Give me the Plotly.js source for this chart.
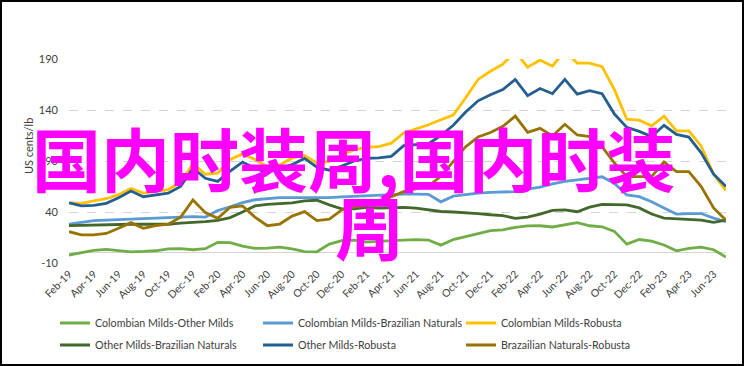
<!DOCTYPE html>
<html>
<head>
<meta charset="utf-8">
<script src="https://cdn.plot.ly/plotly-3.0.1.min.js"></script>
<style>
html,body{margin:0;padding:0;background:#fff;}
#chart{width:744px;height:366px;}
</style>
</head>
<body>
<div id="chart"></div>
<script>
const months = ["Feb-19","Mar-19","Apr-19","May-19","Jun-19","Jul-19","Aug-19","Sep-19","Oct-19","Nov-19","Dec-19",
"Jan-20","Feb-20","Mar-20","Apr-20","May-20","Jun-20","Jul-20","Aug-20","Sep-20","Oct-20","Nov-20","Dec-20",
"Jan-21","Feb-21","Mar-21","Apr-21","May-21","Jun-21","Jul-21","Aug-21","Sep-21","Oct-21","Nov-21","Dec-21",
"Jan-22","Feb-22","Mar-22","Apr-22","May-22","Jun-22","Jul-22","Aug-22","Sep-22","Oct-22","Nov-22","Dec-22",
"Jan-23","Feb-23","Mar-23","Apr-23","May-23","Jun-23","Jul-23"];

const tickLabels = ["Feb-19","Apr-19","Jun-19","Aug-19","Oct-19","Dec-19","Feb-20","Apr-20","Jun-20","Aug-20","Oct-20","Dec-20",
"Feb-21","Apr-21","Jun-21","Aug-21","Oct-21","Dec-21","Feb-22","Apr-22","Jun-22","Aug-22","Oct-22","Dec-22","Feb-23","Apr-23","Jun-23"];

const yTickVals = [-10, 40, 90, 140, 190];
const yTickText = ["-10", "40", "90", "140", "190"];

const seriesNames = ["Colombian Milds-Other Milds","Colombian Milds-Brazilian Naturals","Colombian Milds-Robusta",
"Other Milds-Brazilian Naturals","Other Milds-Robusta","Brazailian Naturals-Robusta"];

const colMildsOtherMilds = [-2.2,0.2,2.3,3.3,2.5,1.0,1.3,2.0,3.8,4.0,
3.0,4.0,10.3,10.0,6.5,4.3,4.5,5.5,3.8,1.2,
1.0,8.5,12.0,12.5,10.5,11.5,12.0,12.5,13.0,12.5,
7.5,13.0,16.0,19.0,21.8,22.5,25.0,26.3,26.5,25.3,
27.3,29.5,26.5,25.5,21.0,8.5,13.0,11.5,7.7,2.0,
4.3,5.5,3.0,-4.2];

const colMildsBrazNat = [28.2,30.0,31.5,32.0,32.5,32.8,33.0,33.3,33.8,34.8,
35.4,35.0,41.5,45.0,49.3,52.0,53.2,54.0,54.0,54.0,
53.8,54.0,54.8,55.3,56.0,56.8,57.5,57.6,57.5,57.3,
50.0,55.5,57.0,58.5,59.2,59.5,60.0,62.5,64.5,67.5,
70.0,71.4,73.0,74.5,68.0,56.7,55.0,50.0,44.0,38.0,
38.4,38.5,34.0,30.5];

const colMildsRobusta = [49,48.5,51,53,57,63,58.5,60,62,69,
87.5,77,78,91.5,97,91.5,84.5,86,93,95.5,
88,89.5,96,101,103.5,104,107.5,117.5,121.5,125.5,
130.5,135,152,170,178,185,197,182,189,183,
198,186,186,182.5,160,131,130,124.5,134,119.5,
119.5,104.5,77,61];

const otherMildsBrazNat = [26.6,27,27.3,27.6,28,28,28,28,28,29,
29.6,30.5,31.8,34.5,40,46,47.5,48.3,49,51,
51.5,47,43,43,44.5,43.8,44.3,44.6,43.8,42.5,
40.5,40,39.5,38.5,37.3,36.5,33.8,35,38,41.5,
42,40.3,44.8,47.5,47.2,46.9,44,38,34,33.5,
33.2,32,29.8,32];

const otherMildsRobusta = [49,46,46.5,48.5,54,60.5,55,57,58.5,65,
83,73,70,80,89,83,78.5,83,86.5,92.5,
84,81,85,90,92.5,93,94.5,105,106,107,
115,125,138,149,155,160,170,154,161,156,
170,155.5,159,156,136,123,119,114,125,116,
113.5,98,77,65];

const brazNatRobusta = [20.7,17.5,17.5,19,24,29.6,24,26.6,28,34.8,
51.8,39.4,33.8,44.6,45.9,35,26.6,28.2,36,40.3,
31.5,32.9,42,45,46.5,47,55,60,63,65.5,
75,90,104,113.5,118,124,134,118,122,114.5,
126,115.5,114,104,88,74.6,74.6,74.6,89,79.5,
79.5,65,44,32];

const seriesValues = [colMildsOtherMilds, colMildsBrazNat, colMildsRobusta, otherMildsBrazNat, otherMildsRobusta, brazNatRobusta];
const seriesColors = ["#70AD47","#5B9BD5","#FFC000","#43682B","#255E91","#997300"];
const seriesLegend = ["legend","legend","legend","legend2","legend2","legend2"];

const traces = seriesValues.map((vals, k) => ({
  type: "scatter",
  mode: "lines",
  x: months,
  y: vals,
  name: seriesNames[k],
  legend: seriesLegend[k],
  line: {color: seriesColors[k], width: 2.8},
  hoverinfo: "skip"
}));

const FONT = "Lato, 'Open Sans', sans-serif";

function legendBox(yPaper) {
  return {
    orientation: "h",
    x: -0.0213,
    xanchor: "left",
    y: yPaper,
    yanchor: "middle",
    entrywidth: 158,
    entrywidthmode: "pixels",
    itemwidth: 30,
    font: {family: FONT, size: 10.7, color: "#404040"},
    bgcolor: "rgba(0,0,0,0)",
    traceorder: "normal"
  };
}

const layout = {
  width: 744,
  height: 366,
  margin: {l: 69, r: 18, t: 59, b: 103, pad: 0, autoexpand: false},
  paper_bgcolor: "#ffffff",
  plot_bgcolor: "#ffffff",
  showlegend: true,
  font: {family: FONT, size: 11, color: "#404040"},
  xaxis: {
    type: "category",
    categoryorder: "array",
    categoryarray: months,
    range: [0, 53],
    tickvals: tickLabels,
    ticktext: tickLabels,
    tickangle: -45,
    tickfont: {family: FONT, size: 10.5, color: "#404040"},
    showgrid: false,
    zeroline: false,
    showline: false,
    ticks: "",
    ticklabelstandoff: 2,
    automargin: false,
    fixedrange: true
  },
  yaxis: {
    range: [-10, 190],
    tickvals: yTickVals,
    ticktext: yTickText,
    tickfont: {family: FONT, size: 11, color: "#404040"},
    showgrid: true,
    gridcolor: "#d4d4d4",
    griddash: "dash",
    gridwidth: 1,
    zeroline: true,
    zerolinecolor: "#d4d4d4",
    zerolinewidth: 1.2,
    showline: false,
    ticks: "",
    ticklabelstandoff: 10,
    automargin: false,
    fixedrange: true
  },
  legend: legendBox(-0.294),
  legend2: legendBox(-0.402),
  annotations: [
    {
      text: "US cents/lb",
      xref: "paper", yref: "paper",
      x: -0.0624, y: 0.5735,
      xanchor: "center", yanchor: "middle",
      textangle: -90,
      showarrow: false,
      font: {family: FONT, size: 11, color: "#404040"}
    },
    {
      text: "国内时装周,国内时装",
      xref: "paper", yref: "paper",
      x: 0.433, y: 0.52,
      xanchor: "center", yanchor: "middle",
      showarrow: false,
      font: {family: "'Noto Sans CJK SC'", size: 69, color: "#ff00ff", weight: "bold"}
    },
    {
      text: "周",
      xref: "paper", yref: "paper",
      x: 0.458, y: 0.186,
      xanchor: "center", yanchor: "middle",
      showarrow: false,
      font: {family: "'Noto Sans CJK SC'", size: 69, color: "#ff00ff", weight: "bold"}
    }
  ],
  shapes: [
    {
      type: "rect", xref: "paper", yref: "paper",
      x0: -0.1035, x1: 1.0259, y0: -0.5, y1: 1.2843,
      line: {color: "#000000", width: 2},
      fillcolor: "rgba(0,0,0,0)",
      layer: "above"
    }
  ]
};

Plotly.newPlot("chart", traces, layout, {displayModeBar: false, staticPlot: true});
</script>
</body>
</html>
